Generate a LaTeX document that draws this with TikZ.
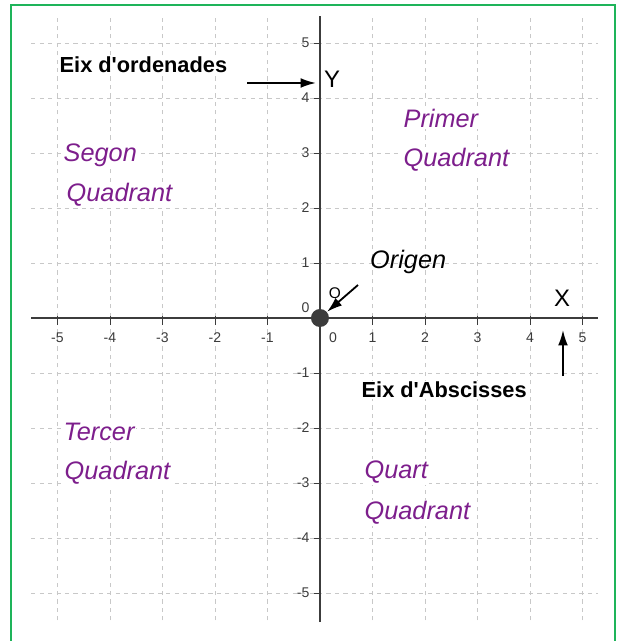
\documentclass[tikz,border=0pt]{standalone}
\usepackage{fontspec}
\setmainfont{Liberation Sans}
\usetikzlibrary{arrows.meta, positioning}
\definecolor{framegreen}{RGB}{30,180,90}
\definecolor{quadpurple}{RGB}{125,30,140}
\definecolor{axisgray}{RGB}{60,60,60}
\definecolor{gridgray}{RGB}{200,200,200}

\begin{document}
\begin{tikzpicture}[x=1.3125cm, y=1.375cm]
\tikzstyle{quad} = [font=\fontsize{18}{21}\selectfont\itshape, text=quadpurple, fill=white, inner sep=1pt, anchor=west]
\tikzstyle{axisname} = [font=\fontsize{15.5}{18}\selectfont\bfseries, fill=white, inner sep=1pt, anchor=west]
\tikzstyle{letter} = [font=\fontsize{17}{20}\selectfont, inner sep=0pt]
\tikzstyle{ticklabel} = [font=\fontsize{10}{12}\selectfont, text=axisgray, inner sep=1pt]
\tikzstyle{line} = [draw, -{Latex[length=11pt,width=7pt]}, line width=1.3pt]

\useasboundingbox (-6.095,-5.873) rectangle (5.714,5.782);
\draw [framegreen, line width=1.8pt] (-5.886,-5.95) rectangle (5.619,5.691);

% grid
\foreach \i in {-5,...,5} {
  \draw [gridgray, dash pattern=on 3pt off 3pt] (\i,-5.5) -- (\i,5.45);
  \draw [gridgray, dash pattern=on 3pt off 3pt] (-5.5,\i) -- (5.3,\i);
}

% axes
\draw [axisgray, line width=1.3pt] (-5.5,0) -- (5.3,0);
\draw [axisgray, line width=1.3pt] (0,-5.53) -- (0,5.49);
\foreach \i in {-5,...,-1,1,2,...,5} {
  \draw [axisgray] (\i,0.04) -- (\i,-0.12);
  \draw [axisgray] (-0.12,\i) -- (0,\i);
  \node [ticklabel] at (\i,-0.35) {\i};
  \node [ticklabel, anchor=east] at (-0.17,\i) {\i};
}
\node [ticklabel] at (0.25,-0.35) {0};
\node [ticklabel, anchor=east] at (-0.17,0.18) {0};

% origin
\node [circle, fill=axisgray, minimum size=0.45cm, inner sep=0pt] (orig) at (0,0) {};
\node [ticklabel, font=\fontsize{11}{13}\selectfont, text=black, inner sep=0pt] (oname) at (0.286,0.455) {O};
\node [letter, font=\fontsize{18}{21}\selectfont\itshape, anchor=west] (origen) at (0.952,1.018) {Origen};
\coordinate (ostart) at (0.724,0.6);
\path [line] (ostart) -- (orig);

% axis names
\node [axisname] (ordenades) at (-4.99,4.6) {Eix d\textquotesingle ordenades};
\node [letter] (ylab) at (0.229,4.345) {Y};
\coordinate (ystart) at (-1.39,4.273);
\coordinate (yaxis) at (-0.076,4.273);
\path [line] (ystart) -- (yaxis);

\node [axisname] (abscisses) at (0.762,-1.309) {Eix d\textquotesingle Abscisses};
\node [letter] (xlab) at (4.61,0.364) {X};
\coordinate (xstart) at (4.629,-1.055);
\coordinate (xaxis) at (4.629,-0.218);
\path [line] (xstart) -- (xaxis);

% quadrants
\node [quad] (primer) at (1.562,3.636) {Primer};
\node [quad] (primerq) at (1.562,2.873) {Quadrant};
\node [quad] (segon) at (-4.914,2.964) {Segon};
\node [quad] (segonq) at (-4.857,2.236) {Quadrant};
\node [quad] (tercer) at (-4.914,-2.073) {Tercer};
\node [quad] (tercerq) at (-4.895,-2.818) {Quadrant};
\node [quad] (quart) at (0.819,-2.8) {Quart};
\node [quad] (quartq) at (0.819,-3.545) {Quadrant};
\end{tikzpicture}
\end{document}
